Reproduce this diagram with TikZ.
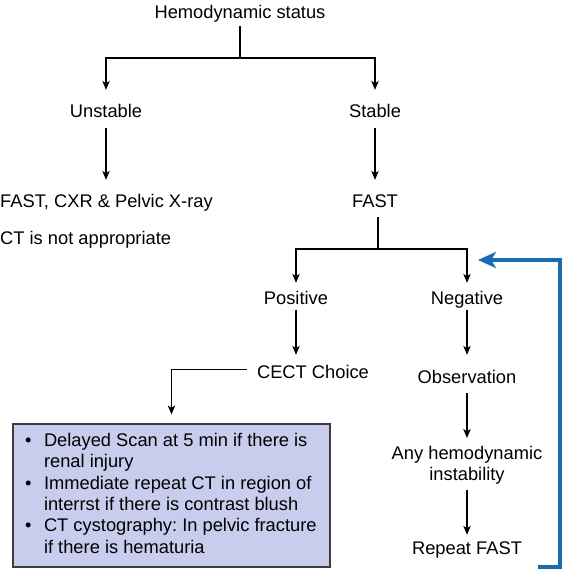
\documentclass[tikz,border=0pt]{standalone}
\usepackage{fontspec}
\setmainfont{Liberation Sans}
\usetikzlibrary{arrows.meta,calc}
\definecolor{bluearr}{RGB}{22,108,184}
\definecolor{boxfill}{RGB}{201,205,237}
\definecolor{boxline}{RGB}{60,60,66}
\newcommand{\fs}{\fontsize{18.3}{21.4}\selectfont}
\frenchspacing
\begin{document}
\begin{tikzpicture}[x=1pt,y=-1pt,
  t/.style={font=\fs, inner sep=0pt, text height=13pt, text depth=4pt, anchor=base},
  ln/.style={line width=1.1pt},
  arr/.style={ln, -{Stealth[length=9pt,width=7.5pt,inset=2.5pt]}},
  barr/.style={line width=3.5pt, color=bluearr, line join=miter, -{Stealth[length=18pt,width=16pt,inset=5pt]}},
  box/.style={draw=boxline, line width=1.2pt, fill=boxfill, inner xsep=3.5pt, inner ysep=0pt,
    minimum width=317pt, minimum height=143pt, font=\fs}]
\useasboundingbox (0,0) rectangle (565,570);

\node[t] (hs) at (240,18) {Hemodynamic status};
\node[t] (un) at (106,117) {Unstable};
\node[t] (st) at (375,117) {Stable};
\node[t,anchor=base west] (fc) at (0,207) {FAST, CXR \& Pelvic X-ray};
\node[t,anchor=base west] (ct) at (0,244) {CT is not appropriate};
\node[t] (fa) at (375,207) {FAST};
\node[t] (po) at (296,304) {Positive};
\node[t] (ne) at (467,304) {Negative};
\node[t] (cc) at (313,378) {CECT Choice};
\node[t] (ob) at (467,383) {Observation};
\node[font=\fs, inner sep=0pt, align=center] (an) at (467,465.4) {Any hemodynamic\\instability};
\node[t] (rf) at (467,554) {Repeat FAST};

\node[box] (bx) at (171.5,495.5) {\parbox[c][141pt][t]{310pt}{\fs\vspace*{8pt}%
\begin{list}{\textbullet}{\setlength{\leftmargin}{27.5pt}\setlength{\labelwidth}{10pt}%
\setlength{\labelsep}{12.5pt}\setlength{\itemsep}{0pt}\setlength{\parsep}{0pt}%
\setlength{\topsep}{0pt}\setlength{\partopsep}{0pt}}\raggedright
\item \mbox{Delayed Scan at 5 min if there is}\\ renal injury
\item \mbox{Immediate repeat CT in region of}\\ \mbox{interrst if there is contrast blush}
\item \mbox{CT cystography: In pelvic fracture}\\ if there is hematuria
\end{list}}};

\coordinate (j1) at (240,58);
\coordinate (j2) at (378,249);
\coordinate (bs) at (538,567);
\coordinate (bc) at (560,260);
\coordinate (bt) at (478,260);

\draw[ln] ($(hs.south)+(0,4)$) -- (j1);
\draw[arr] (j1) -| ($(un.north)+(0,-14)$);
\draw[arr] (j1) -| ($(st.north)+(0,-14)$);
\draw[arr] ($(un.south)+(0,7)$) -- ($(un.south |- fc.north)+(0,-14)$);
\draw[arr] ($(st.south)+(0,7)$) -- ($(fa.north)+(0,-14)$);
\draw[ln] ($(fa.south)+(3,6)$) -- (j2);
\draw[arr] (j2) -| ($(po.north)+(0,-8)$);
\draw[arr] (j2) -| ($(ne.north)+(0,-8)$);
\draw[arr] ($(po.south)+(0,2)$) -- ($(po.south |- cc.north)+(0,-10)$);
\draw[arr] ($(ne.south)+(0,2)$) -- ($(ob.north)+(0,-15)$);
\draw[arr] ($(cc.west)+(-10,-4)$) -| ($(bx.north)+(0,-9)$);
\draw[arr] ($(ob.south)+(0,6)$) -- ($(an.north)+(0,-8)$);
\draw[arr] ($(an.south)+(0,5)$) -- ($(rf.north)+(0,-6)$);
\draw[barr] (bs) -| (bc) -- (bt);
\end{tikzpicture}
\end{document}
